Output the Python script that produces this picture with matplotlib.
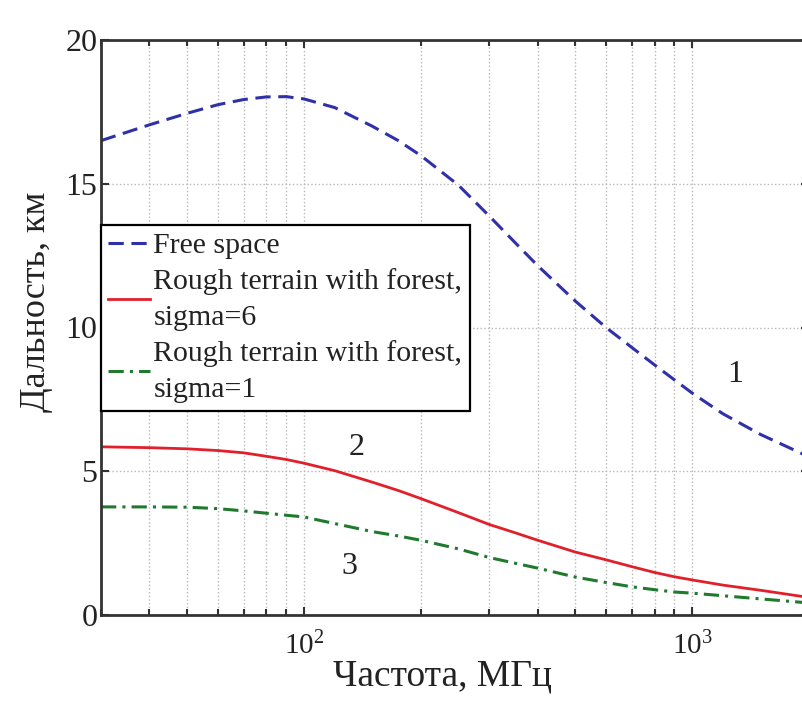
import matplotlib
matplotlib.use('Agg')
import matplotlib.pyplot as plt
from matplotlib.ticker import LogLocator, NullFormatter

plt.rcParams['font.family'] = ['Liberation Serif', 'DejaVu Serif']
plt.rcParams['mathtext.fontset'] = 'custom'
plt.rcParams['mathtext.rm'] = 'Liberation Serif'
plt.rcParams['mathtext.it'] = 'Liberation Serif:italic'

# частоты, МГц
freq = [30, 40, 50, 60, 70, 80, 90, 100, 120, 150, 175, 200, 250, 300, 350,
        400, 500, 600, 700, 800, 900, 1000, 1200, 1500, 2000]

# 1 - свободное пространство
free_space = [16.5, 17.05, 17.45, 17.75, 17.93, 18.02, 18.03, 17.95, 17.65,
              17.0, 16.5, 15.98, 14.95, 13.88, 12.95, 12.15, 10.92, 10.0, 9.3,
              8.7, 8.18, 7.72, 7.0, 6.28, 5.5]
# 2 - пересеченная местность с лесом, sigma=6
forest_s6 = [5.85, 5.82, 5.78, 5.72, 5.64, 5.52, 5.41, 5.28, 5.02, 4.62, 4.33,
             4.05, 3.56, 3.15, 2.86, 2.6, 2.19, 1.92, 1.68, 1.48, 1.33, 1.22,
             1.04, 0.86, 0.61]
# 3 - пересеченная местность с лесом, sigma=1
forest_s1 = [3.76, 3.76, 3.75, 3.7, 3.62, 3.54, 3.47, 3.41, 3.18, 2.9, 2.75,
             2.6, 2.3, 2.0, 1.8, 1.63, 1.32, 1.13, 0.98, 0.88, 0.8, 0.76,
             0.67, 0.56, 0.42]

labels = ['Free space', 'Rough terrain with forest,\nsigma=6',
          'Rough terrain with forest,\nsigma=1']

fig = plt.figure(figsize=(8.03, 7.01), dpi=100)
ax = fig.add_axes([101/803, 86/701, 708/803, 575/701])

ax.plot(freq, free_space, color='#3030a8', linestyle=(0, (5, 2.5)), linewidth=2.2, label=labels[0])
ax.plot(freq, forest_s6, color='#e0202a', linestyle='-', linewidth=2.0, label=labels[1])
ax.plot(freq, forest_s1, color='#1f7a2e', linestyle=(0, (5, 2, 1, 2)), linewidth=2.2, label=labels[2])

ax.set_xscale('log')
ax.set_xlim(30, 2000)
ax.set_ylim(0, 20)
ax.set_yticks([0, 5, 10, 15, 20])
ax.xaxis.set_minor_locator(LogLocator(base=10, subs=range(2, 10)))
ax.xaxis.set_minor_formatter(NullFormatter())

ax.grid(True, which='major', axis='both', linestyle=':', color='#b8b8b8', linewidth=1.0)
ax.grid(True, which='minor', axis='x', linestyle=':', color='#b8b8b8', linewidth=1.0)

for s in ax.spines.values():
    s.set_linewidth(2.0)
    s.set_color('#333333')
ax.tick_params(which='both', direction='in', top=True, right=True, colors='#333333',
               labelcolor='#222222')
ax.tick_params(axis='y', labelsize=23, pad=2.5)
ax.tick_params(axis='x', labelsize=21, pad=12)
ax.tick_params(which='major', length=6, width=1.5)
ax.tick_params(which='minor', length=4, width=1.5)

ax.set_xlabel('Частота, МГц', fontsize=27, color='#222222')
ax.set_ylabel('Дальность, км', fontsize=26, color='#222222')
ax.xaxis.set_label_coords(0.483, -0.076)
ax.yaxis.set_label_coords(-0.068, 0.544)

ax.text(1290, 8.35, '1', fontsize=23, ha='center', va='center', color='#222222')
ax.text(137, 5.84, '2', fontsize=23, ha='center', va='center', color='#222222')
ax.text(131, 1.67, '3', fontsize=23, ha='center', va='center', color='#222222')

leg = ax.legend(loc='upper left', bbox_to_anchor=(0, (615 - 225) / 575), borderaxespad=0,
                fontsize=21.5, fancybox=False, framealpha=1, edgecolor='black',
                handlelength=1.4, handletextpad=0.1, labelspacing=0.3, borderpad=0.25)
leg.get_frame().set_linewidth(1.6)
for t in leg.get_texts():
    t.set_color('#222222')
    t.set_linespacing(1.5)

fig.savefig('out.png', dpi=100)
